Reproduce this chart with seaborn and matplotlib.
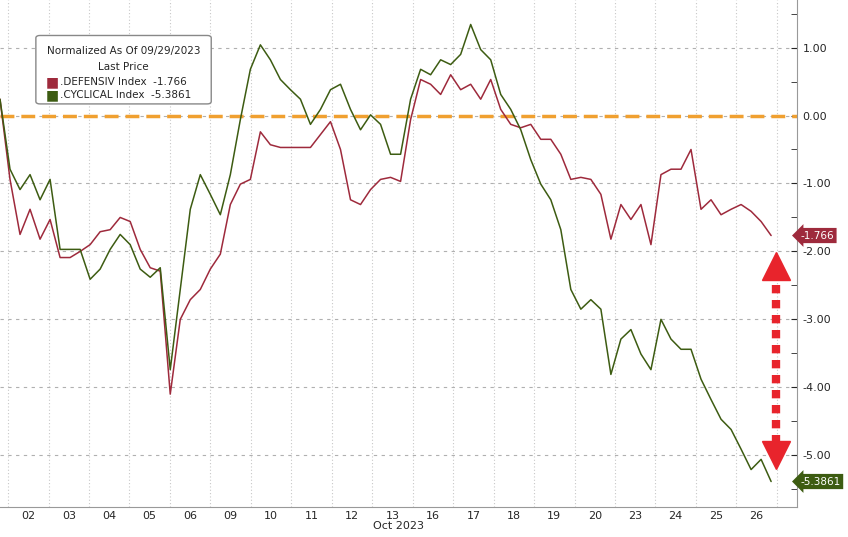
import matplotlib.pyplot as plt
import matplotlib.patches as mpatches
import seaborn as sns
import numpy as np
import pandas as pd

# ---- data (~quarter-day steps) ----
day_labels = ["02", "03", "04", "05", "06", "09", "10", "11", "12", "13",
              "16", "17", "18", "19", "20", "23", "24", "25", "26"]

defensiv = [0.24, -0.94, -1.75, -1.38, -1.82, -1.53, -2.09, -2.09, -2.0, -1.9,
            -1.71, -1.68, -1.5, -1.56, -1.97, -2.24, -2.29, -4.1, -3.0, -2.71,
            -2.56, -2.26, -2.04, -1.31, -1.01, -0.94, -0.24, -0.43, -0.47, -0.47,
            -0.47, -0.47, -0.28, -0.09, -0.5, -1.24, -1.31, -1.09, -0.94, -0.91,
            -0.97, -0.06, 0.53, 0.46, 0.31, 0.6, 0.38, 0.46, 0.24, 0.53,
            0.09, -0.13, -0.18, -0.13, -0.35, -0.35, -0.57, -0.94, -0.91, -0.94,
            -1.16, -1.82, -1.31, -1.53, -1.31, -1.9, -0.87, -0.79, -0.79, -0.5,
            -1.38, -1.24, -1.46, -1.38, -1.31, -1.41, -1.56, -1.766]

cyclical = [0.24, -0.79, -1.09, -0.87, -1.24, -0.94, -1.97, -1.97, -1.97, -2.41,
            -2.26, -1.97, -1.75, -1.90, -2.26, -2.38, -2.24, -3.74, -2.56, -1.38,
            -0.87, -1.16, -1.46, -0.87, -0.06, 0.68, 1.04, 0.82, 0.53, 0.38,
            0.24, -0.13, 0.09, 0.38, 0.46, 0.09, -0.21, 0.01, -0.13, -0.57,
            -0.57, 0.24, 0.68, 0.60, 0.82, 0.75, 0.90, 1.34, 0.97, 0.82,
            0.31, 0.09, -0.21, -0.65, -1.01, -1.24, -1.68, -2.56, -2.85, -2.71,
            -2.85, -3.81, -3.29, -3.15, -3.51, -3.74, -3.0, -3.29, -3.44, -3.44,
            -3.88, -4.18, -4.47, -4.62, -4.91, -5.21, -5.06, -5.386]

last_labels = ["-1.766", "-5.3861"]

t = np.arange(len(defensiv)) * 0.2475 - 0.2
df = pd.DataFrame({"t": t, "DEFENSIV": defensiv, "CYCLICAL": cyclical})

red = "#9e2a3c"
green = "#3d5c12"

sns.set_style("white")
plt.rcParams["font.family"] = ["DejaVu Sans"]

fig = plt.figure(figsize=(8.48, 5.37), dpi=100)
ax = fig.add_axes([0.0, 0.056, 0.94, 0.944])

# grid
for k in range(0, 20):
    ax.axvline(k, color="#c8c8c8", lw=0.8, ls=(0, (1, 2)), zorder=0)
for yv in range(-5, 2):
    ax.axhline(yv, color="#b0b0b0", lw=0.8, ls=(0, (3, 4)), zorder=0)
ax.axhline(0, color="#f0a030", lw=2.5, ls=(0, (4, 2)), zorder=1)

sns.lineplot(data=df, x="t", y="DEFENSIV", color=red, lw=1.1, ax=ax)
sns.lineplot(data=df, x="t", y="CYCLICAL", color=green, lw=1.1, ax=ax)

ax.set_xlim(-0.2, 19.5)
ax.set_ylim(-5.76, 1.7)
ax.yaxis.tick_right()
ax.set_yticks(range(-5, 2))
ax.set_yticklabels([f"{v:.2f}" for v in range(-5, 2)], fontsize=8)
ax.set_yticks(np.arange(-5.5, 1.6, 1.0), minor=True)
ax.tick_params(axis="y", which="both", direction="in", length=4, pad=4, right=True)
ax.set_xticks(np.arange(len(day_labels)) + 0.5)
ax.set_xticklabels(day_labels, fontsize=8)
ax.tick_params(axis="x", length=0, pad=3)
ax.set_xlabel("Oct 2023", fontsize=8, labelpad=0)
ax.set_ylabel("")
for s in ["top", "left"]:
    ax.spines[s].set_visible(False)
for s in ["right", "bottom"]:
    ax.spines[s].set_color("#999999")

# last price tags
for val, lab, col in [(defensiv[-1], last_labels[0], red), (cyclical[-1], last_labels[1], green)]:
    ax.text(19.58, val, lab, color="white", fontsize=7.5, va="center", ha="left",
            clip_on=False, bbox=dict(boxstyle="larrow,pad=0.25", fc=col, ec="none"))

# red dotted double arrow
ax.plot([18.98, 18.98], [-2.5, -4.8], color="#e8242c", lw=6, ls=(0, (1, 0.8)))
ax.plot(18.98, -2.22, marker="^", ms=20, color="#e8242c", mec="#e8242c")
ax.plot(18.98, -5.0, marker="v", ms=20, color="#e8242c", mec="#e8242c")

# legend box
box = mpatches.FancyBboxPatch((0.05, 0.8), 0.21, 0.125, transform=ax.transAxes,
                              boxstyle="round,pad=0.005", fc="white", ec="#888888",
                              lw=1, zorder=5)
ax.add_patch(box)
ax.text(0.155, 0.91, "Normalized As Of 09/29/2023", transform=ax.transAxes,
        fontsize=7.5, va="top", ha="center", zorder=6)
ax.text(0.155, 0.878, "Last Price", transform=ax.transAxes,
        fontsize=7.5, va="top", ha="center", zorder=6)
ax.text(0.057, 0.838, "\u25a0", color=red, transform=ax.transAxes, fontsize=10, va="center", zorder=6)
ax.text(0.075, 0.838, ".DEFENSIV Index  -1.766", transform=ax.transAxes, fontsize=7.5, va="center", zorder=6)
ax.text(0.057, 0.812, "\u25a0", color=green, transform=ax.transAxes, fontsize=10, va="center", zorder=6)
ax.text(0.075, 0.812, ".CYCLICAL Index  -5.3861", transform=ax.transAxes, fontsize=7.5, va="center", zorder=6)

fig.savefig("out.png", dpi=100)
